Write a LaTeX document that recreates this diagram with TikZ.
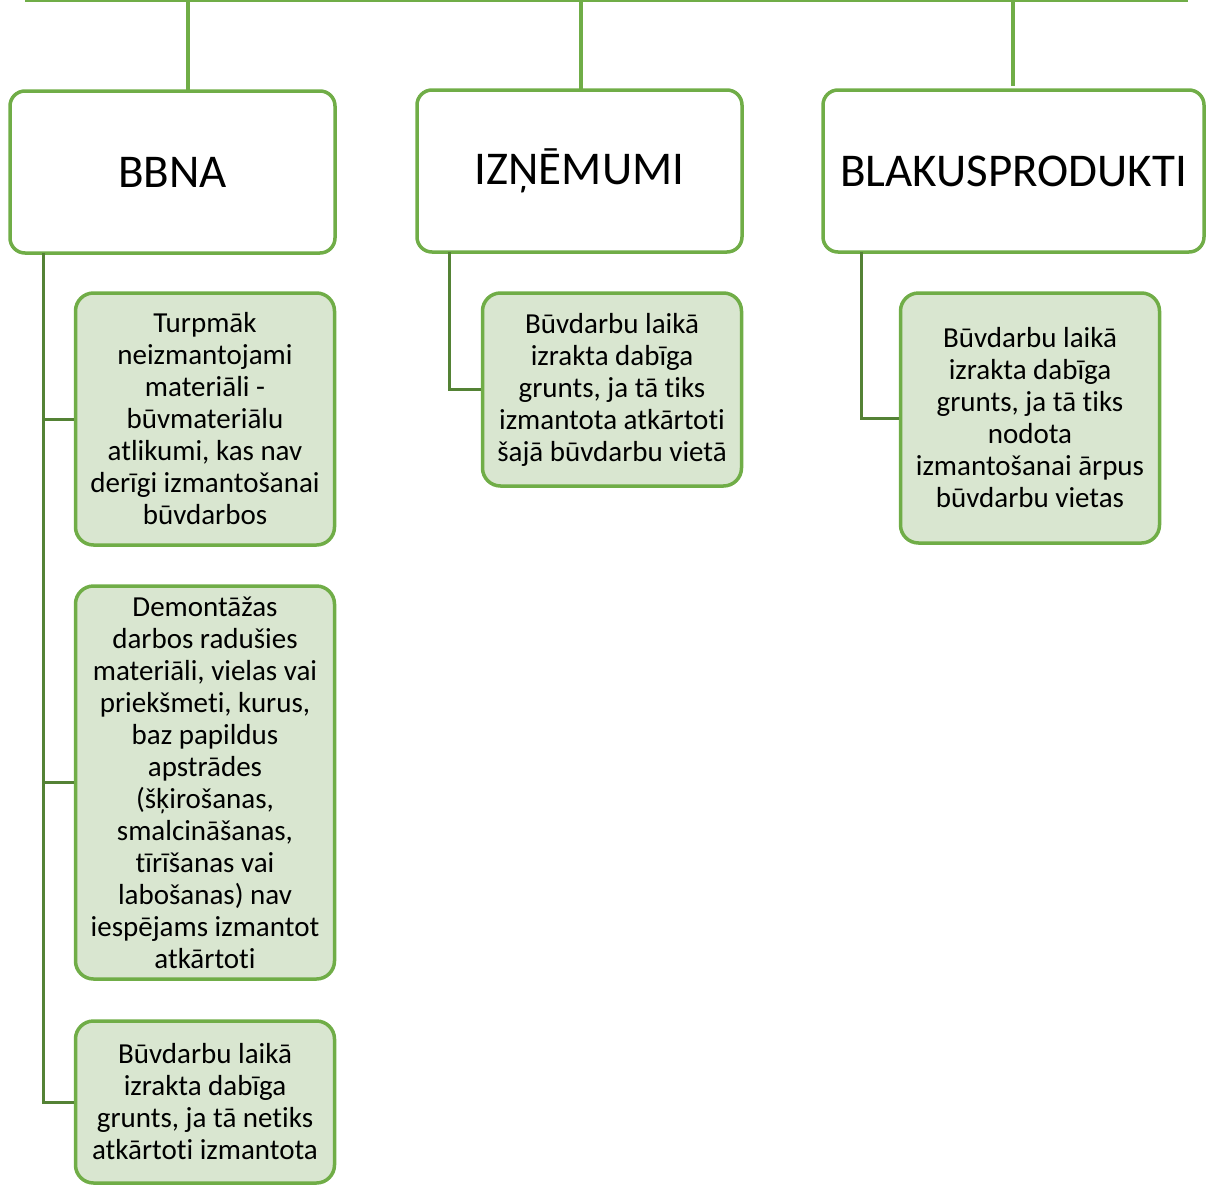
\documentclass[tikz,border=0pt]{standalone}
\usepackage{fontspec}
\setmainfont[RawFeature=-liga]{Carlito}
\definecolor{gline}{HTML}{70AD47}
\definecolor{gdark}{HTML}{548235}
\definecolor{gfill}{HTML}{D9E6D0}
\begin{document}
\begin{tikzpicture}[x=1pt,y=-1pt,
  headbox/.style={draw=gline,line width=3.5pt,fill=white,rounded corners=15pt,inner sep=0pt,
    font=\fontsize{47}{56}\selectfont},
  childbox/.style={draw=gline,line width=3.5pt,fill=gfill,rounded corners=18pt,inner sep=0pt,
    minimum width=259pt},
  childtext/.style={align=center,inner sep=0pt,font=\fontsize{29}{32}\selectfont},
  conn/.style={draw=gdark,line width=3pt},
  topline/.style={draw=gline,line width=4pt}]
\useasboundingbox (0,0) rectangle (1208,1192);
% top connectors
\coordinate (tl) at (25,0.8);
\coordinate (tr) at (1188,0.8);
\coordinate (t1) at (188,0.8);
\coordinate (t2) at (581,0.8);
\coordinate (t3) at (1013,0.8);
\coordinate (e1) at (188,96);
\coordinate (e2) at (581,92);
\coordinate (e3) at (1013,86);
\draw[draw=gline,line width=2.5pt] (tl) -- (tr);
\draw[topline] (t1) -- (e1);
\draw[topline] (t2) -- (e2);
\draw[topline] (t3) -- (e3);
% header boxes
\node[headbox,minimum width=325pt,minimum height=162pt] (bbna) at (172.5,172) {BBNA};
\node[headbox,minimum width=325pt,minimum height=162pt] (izn) at (579.5,171) {IZŅĒMUMI};
\node[headbox,minimum width=381pt,minimum height=162pt] (blak) at (1013.5,171) {BLAKUSPRODUKTI};
% child boxes
\node[childbox,minimum height=252pt] (c1) at (205,419) {};
\node[childtext] at (c1) {Turpmāk\\neizmantojami\\materiāli -\\būvmateriālu\\atlikumi, kas nav\\derīgi izmantošanai\\būvdarbos};
\node[childbox,minimum height=393pt] (c2) at (205,782.5) {};
\node[childtext] at (c2) {Demontāžas\\darbos radušies\\materiāli, vielas vai\\priekšmeti, kurus,\\baz papildus\\apstrādes\\(šķirošanas,\\smalcināšanas,\\tīrīšanas vai\\labošanas) nav\\iespējams izmantot\\atkārtoti};
\node[childbox,minimum height=162pt] (c3) at (205,1102) {};
\node[childtext] at (c3) {Būvdarbu laikā\\izrakta dabīga\\grunts, ja tā netiks\\atkārtoti izmantota};
\node[childbox,minimum height=193pt] (c4) at (612,389.5) {};
\node[childtext] at (c4) {Būvdarbu laikā\\izrakta dabīga\\grunts, ja tā tiks\\izmantota atkārtoti\\šajā būvdarbu vietā};
\node[childbox,minimum height=250pt] (c5) at (1030,418) {};
\node[childtext] at (c5) {Būvdarbu laikā\\izrakta dabīga\\grunts, ja tā tiks\\nodota\\izmantošanai ārpus\\būvdarbu vietas};
% side connectors
\coordinate (b1) at (43,253);
\coordinate (b2) at (449,252);
\coordinate (b3) at (861,252);
\draw[conn] (b1) |- (c1.west);
\draw[conn] (b1) |- (c2.west);
\draw[conn] (b1) |- (c3.west);
\draw[conn] (b2) |- (c4.west);
\draw[conn] (b3) |- (c5.west);
\end{tikzpicture}
\end{document}
